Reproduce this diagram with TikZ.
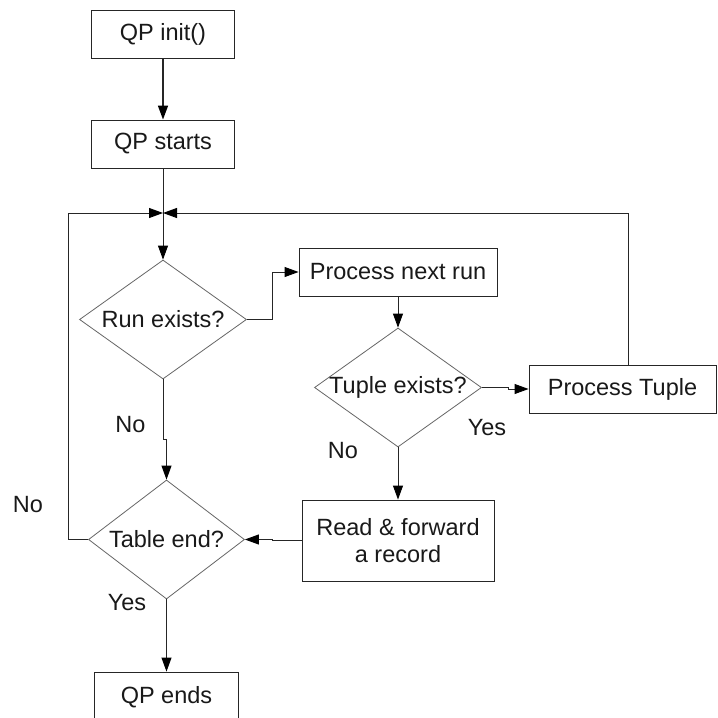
\documentclass[tikz,border=0pt]{standalone}
\usepackage{fontspec}
\setmainfont{Liberation Sans}
\usetikzlibrary{arrows.meta,shapes.geometric}
\tikzset{
 box/.style={draw=black!85, line width=0.9pt, inner sep=0pt, font=\fontsize{23.5}{27}\selectfont, text=black!90},
 dec/.style={diamond, draw=black!60, line width=0.8pt, inner sep=0pt},
 txt/.style={font=\fontsize{23.5}{27}\selectfont, text=black!90, inner sep=0pt},
 conn/.style={draw=black!85, line width=0.9pt, -{Triangle[length=14pt,width=10pt,color=black]}},
}
\begin{document}
\begin{tikzpicture}[x=1pt,y=-1pt]
\useasboundingbox (0,0) rectangle (718,718);
\clip (0,0) rectangle (718,718);
\fill[white] (0,0) rectangle (718,718);
% boxes
\node[box, minimum width=143, minimum height=48] (init) at (163,34) {QP init()};
\node[box, minimum width=143, minimum height=48] (starts) at (163,144) {QP starts};
\node[box, minimum width=198, minimum height=48] (nextrun) at (398,272) {Process next run};
\node[box, minimum width=187, minimum height=48] (ptuple) at (622.5,389) {Process Tuple};
\node[box, minimum width=192, minimum height=81, align=center] (read) at (398,540.5) {Read \& forward\\a record};
\node[box, minimum width=144, minimum height=50] (ends) at (166.5,697) {QP ends};
% decisions
\node[dec, minimum width=167, minimum height=119] (run) at (163,319.5) {};
\node[txt] at (run) {Run exists?};
\node[dec, minimum width=167, minimum height=119] (tuple) at (398,387.5) {};
\node[txt] at (tuple) {Tuple exists?};
\node[dec, minimum width=156, minimum height=119] (table) at (166.5,539.5) {};
\node[txt] at (table) {Table end?};
% labels
\node[txt] (l1) at (130.5,425) {No};
\node[txt] (l2) at (28,505) {No};
\node[txt] (l3) at (127,603) {Yes};
\node[txt] (l4) at (487,428) {Yes};
\node[txt] (l5) at (343,451) {No};
% connectors
\coordinate (j) at (163,213);
\coordinate (lc) at (68,213);
\draw[conn, line width=1.6pt] (init) -- (starts);
\draw[conn] (starts.south) -- (run.north);
\draw[conn] (table.west) -| (lc) -- (j);
\draw[conn] ([xshift=5.5pt]ptuple.north) |- (j);
\draw[conn] (run.east) -- ++(26,0) |- (nextrun.west);
\draw[conn] (nextrun.south) -- (tuple.north);
\draw[conn] (tuple.east) -- ++(27,0) |- (ptuple.west);
\draw[conn] (tuple.south) -- (read.north);
\draw[conn] (read.west) -- ++(-29,0) |- (table.east);
\draw[conn] (run.south) -- ++(0,60) -| (table.north);
\draw[conn] (table.south) -- (ends.north);
\end{tikzpicture}
\end{document}
